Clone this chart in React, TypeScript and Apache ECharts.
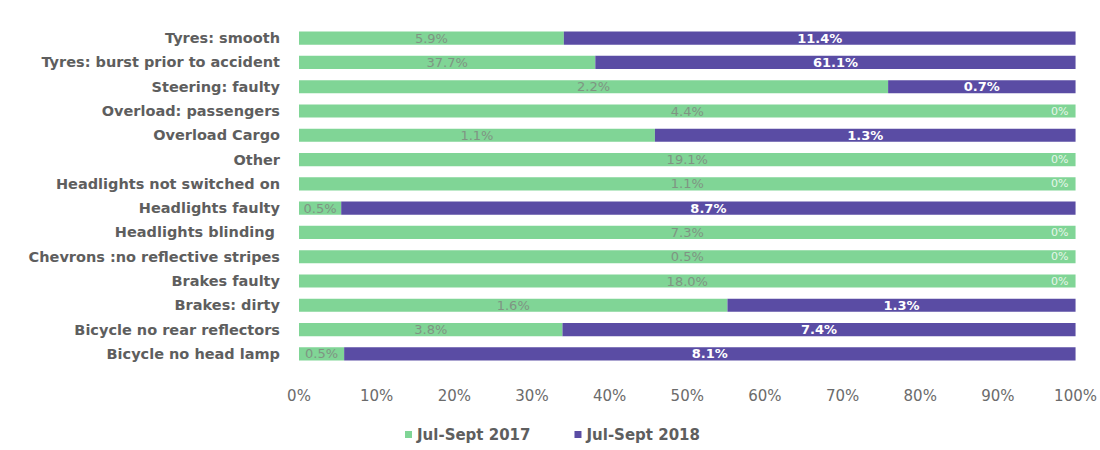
import React, { useEffect, useRef } from "react";
import * as echarts from "echarts";

const categories = [
  "Tyres: smooth",
  "Tyres: burst prior to accident",
  "Steering: faulty",
  "Overload: passengers",
  "Overload Cargo",
  "Other",
  "Headlights not switched on",
  "Headlights faulty",
  "Headlights blinding ",
  "Chevrons :no reflective stripes",
  "Brakes faulty",
  "Brakes: dirty",
  "Bicycle no rear reflectors",
  "Bicycle no head lamp",
];

// Shares (%) reported for each quarter
const values2017 = [5.9, 37.7, 2.2, 4.4, 1.1, 19.1, 1.1, 0.5, 7.3, 0.5, 18.0, 1.6, 3.8, 0.5];
const values2018 = [11.4, 61.1, 0.7, 0, 1.3, 0, 0, 8.7, 0, 0, 0, 1.3, 7.4, 8.1];

const seriesNames = ["Jul-Sept 2017", "Jul-Sept 2018"];
const xTicks = ["0%", "10%", "20%", "30%", "40%", "50%", "60%", "70%", "80%", "90%", "100%"];

const GREEN = "#80d596";
const PURPLE = "#5a4ca4";
const FONT = "DejaVu Sans";

export default function App() {
  const ref = useRef<HTMLDivElement>(null);

  useEffect(() => {
    if (!ref.current) return;
    const chart = echarts.init(ref.current, undefined, { renderer: "svg" });

    // Each row is stacked to 100%, labels keep the reported value
    const totals = values2017.map((v, i) => v + values2018[i]);
    const toShare = (arr: number[]) =>
      arr.map((v, i) => ({ value: (v / totals[i]) * 100, raw: v }));

    const pct = (v: number) => (v === 0 ? "0%" : `${v.toFixed(1)}%`);

    chart.setOption({
      animation: false,
      textStyle: { fontFamily: FONT },
      grid: { left: 299, right: 23, top: 26, bottom: 84, containLabel: false },
      xAxis: {
        type: "value",
        min: 0,
        max: 100,
        interval: 10,
        splitLine: { show: false },
        axisLine: { show: false },
        axisTick: { show: false },
        axisLabel: {
          color: "#6b6b6b",
          fontSize: 15,
          fontFamily: FONT,
          margin: 22,
          formatter: (v: number) => xTicks[Math.round(v / 10)],
        },
      },
      yAxis: {
        type: "category",
        data: categories,
        inverse: true,
        axisLine: { show: false },
        axisTick: { show: false },
        axisLabel: {
          color: "#5e5e5e",
          fontSize: 14.5,
          fontWeight: "bold",
          fontFamily: FONT,
          margin: 19,
        },
      },
      legend: {
        bottom: 3,
        left: 400,
        itemWidth: 7,
        itemHeight: 7,
        itemGap: 44,
        icon: "rect",
        textStyle: { color: "#5e5e5e", fontSize: 15, fontWeight: "bold", fontFamily: FONT },
        data: seriesNames,
      },
      series: [
        {
          name: seriesNames[0],
          type: "bar",
          stack: "total",
          barWidth: "54%",
          itemStyle: { color: GREEN },
          label: {
            show: true,
            position: "inside",
            color: "#7f9483",
            fontSize: 13,
            fontFamily: FONT,
            formatter: (p: any) => pct(p.data.raw),
          },
          data: toShare(values2017),
        },
        {
          name: seriesNames[1],
          type: "bar",
          stack: "total",
          barWidth: "54%",
          itemStyle: { color: PURPLE },
          label: {
            show: true,
            position: "inside",
            color: "#ffffff",
            fontSize: 13,
            fontWeight: "bold",
            fontFamily: FONT,
            formatter: (p: any) => pct(p.data.raw),
          },
          data: toShare(values2018).map((d) =>
            d.raw === 0
              ? {
                  ...d,
                  label: {
                    position: "insideRight",
                    color: "#e6f6ea",
                    fontSize: 11,
                    fontWeight: "normal",
                    offset: [-2, 0],
                  },
                }
              : d
          ),
        },
      ],
    });

    return () => chart.dispose();
  }, []);

  return (
    <div
      ref={ref}
      style={{ position: "fixed", left: 0, top: 0, width: 1100, height: 450, background: "#fff" }}
    />
  );
}
